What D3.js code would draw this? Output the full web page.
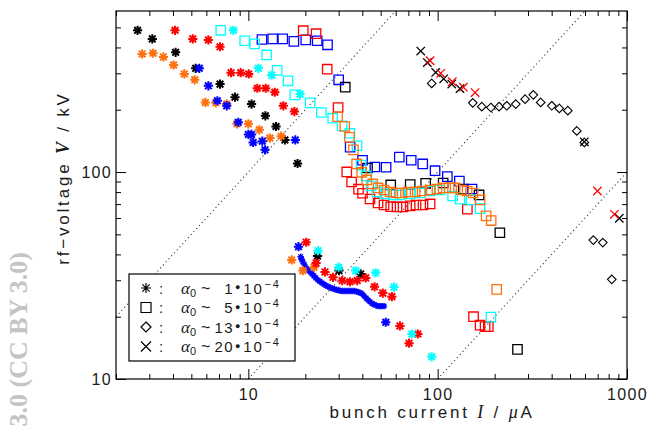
<!DOCTYPE html>
<html>
<head>
<meta charset="utf-8">
<script src="https://cdn.jsdelivr.net/npm/d3@7/dist/d3.min.js"></script>
<style>
  html, body { margin: 0; padding: 0; background: #fff; }
  svg { display: block; }
  text { font-family: "Liberation Sans", Arial, sans-serif; fill: #1a1a1a; }
</style>
</head>
<body>
<svg id="chart" width="648" height="429"></svg>
<script>
// Each point: [bunch current I (µA), rf-voltage V (kV)]

// alpha0 ~ 1e-4 (asterisks)
const starBlack = [[2.60,484],[3.11,440],[4.13,379],[5.27,317],[7.09,266],[8.50,230],[10.4,213],[12.3,187],[14.0,166],[15.6,143],[18.2,110],[23.2,39.3],[30.1,33.4],[39.2,32.2]];
const starRed = [[4.10,484],[5.09,440],[6.15,435],[7.09,403],[8.10,302],[9.11,302],[10.05,298],[11.15,254],[12.35,254],[13.8,243],[15.3,209],[17.5,196],[20.2,45.8],[22.8,36.3],[25.4,32.9],[28.0,31.0],[31.3,29.9],[34.4,29.5],[37.6,29.9],[41.7,30.8],[46.4,27.9],[51.3,26.0],[57.3,25.0],[63.2,18.05],[78.5,16.5],[70.6,14.9]];
const starOrange = [[2.75,372],[3.14,375],[3.56,360],[4.03,329],[4.59,298],[5.21,279],[5.93,217],[6.73,216],[7.69,213],[8.71,171],[10.0,171],[11.43,160],[13.0,146],[14.9,149],[16.95,37.6],[19.4,33.4],[22.2,34.7]];
const starBlue = [[5.51,317],[6.15,261],[6.86,221],[7.69,209],[8.85,174],[10.0,152],[10.4,152],[10.6,139],[11.85,141],[12.25,128],[17.7,143],[18.4,43.6],[53.2,18.8]];
const starBlueScan = [[18.9,39.0],[19.1,37.9],[19.4,36.8],[19.8,35.6],[20.2,34.4],[20.7,33.6],[21.2,32.9],[21.7,32.2],[22.2,31.5],[22.7,30.8],[23.3,30.1],[23.9,29.6],[24.5,29.1],[25.1,28.7],[25.7,28.3],[26.3,28.0],[27.0,27.7],[27.7,27.4],[28.4,27.2],[29.1,27.0],[29.8,26.9],[30.5,26.7],[31.3,26.6],[32.0,26.6],[32.8,26.6],[33.6,26.6],[34.4,26.6],[35.3,26.6],[36.2,26.6],[37.1,26.5],[38.0,26.3],[38.9,26.1],[39.9,25.8],[40.9,25.2],[41.9,24.6],[42.9,24.1],[43.9,23.6],[45.0,23.2],[46.1,22.9],[47.2,22.7],[48.4,22.5],[49.6,22.5],[50.8,22.5],[52.1,22.5]];
const starCyan = [[8.33,484],[11.29,317],[13.3,294],[18.75,238],[23.35,41.7],[30.0,34.7],[36.9,33.4],[47.1,32.6],[58.8,27.8],[73.1,16.5],[93.0,12.8]];

// alpha0 ~ 5e-4 (squares)
const squareCyan = [[7.15,484],[9.57,431],[10.8,416],[12.5,368],[14.2,310],[16.2,276],[17.6,236],[21.2,216],[24.3,194],[27.9,182],[31.3,167],[34.4,154],[37.5,134],[39.4,108],[41.9,95.7],[44.5,85.6],[47.8,80.1],[52.7,78.4],[58.1,77.5],[63.2,77.5],[71.6,78.4],[80.7,79.2],[91.2,81.0],[102.9,81.9],[119.9,76.6],[131.2,74.0],[150.1,73.3],[167.5,66.5],[191,19.9]];
const squareBlue = [[11.8,437],[13.45,440],[15.2,440],[17.4,428],[20.1,435],[23.1,431],[26.2,412],[30.0,279],[34.5,132],[40.1,114],[46.6,105.8],[53.4,105.5],[62.7,118],[72.5,114],[83.4,109.4],[96.9,101.5],[112.5,95],[130.2,90.5],[151.9,82.8]];
const squareBlack = [[32.5,257],[42.6,104.6],[56.5,86.6],[71.6,86.9],[86.4,88.2],[106.9,88.5],[136.7,82.8],[165.5,77.5],[213,50.9],[264,13.9]];
const squareRed = [[19.5,482],[22.8,466],[26.1,314],[29.8,205],[33.1,100.1],[35.1,89.5],[38.2,82.6],[40.1,79],[43.9,74.1],[48.4,70.9],[52.1,69.3],[56.5,68.0],[61.0,67.8],[65.6,67.8],[71.6,68.6],[76.9,69.3],[83.7,69.3],[91.2,70.1],[143.5,66.1],[154.7,20.0],[167.5,18.2],[178,17.9],[185.2,17.9]];
const squareOrange = [[29.6,185],[32.3,166],[34.2,147],[35.9,128],[37.3,109.4],[39.7,99.7],[42.2,91.6],[45.3,87.6],[48.4,83.8],[52.1,81.9],[56.0,80.1],[60.3,79.2],[64.8,79.2],[69.7,80.1],[76.0,80.1],[82.7,81.0],[91.2,81.9],[99.2,82.8],[106.8,83.8],[114.9,83.8],[123.6,83.8],[132.9,81.9],[143,81.0],[153.8,79.2],[167.5,73.3],[180.3,61.4],[191.7,58.3],[205,27.1]];

// alpha0 ~ 13e-4 (diamonds)
const diamondBlack = [[93.0,268],[153.3,216],[171,207],[191,205],[211,207],[231.7,209],[258.6,213],[289.6,225],[320,236],[350,217],[400.5,209],[439,203],[487,198],[543,158],[595,139],[664,46.9],[745,45.6],[831,30.3]];

// alpha0 ~ 20e-4 (crosses)
const crossBlack = [[81.4,384],[88.2,338],[97.6,303],[107.6,282],[118.7,266],[131.2,253],[595,140],[911,59.8]];
const crossRed = [[91.2,345],[103.8,300],[119.5,273],[136.7,257],[157.6,242],[698,81.0],[858,62.5]];

// axes
const xMajorTicks = [10, 100, 1000];
const xMinorTicks = [2,3,4,5,6,7,8,9,20,30,40,50,60,70,80,90,200,300,400,500,600,700,800,900];
const yMajorTicks = [10, 100];
const yMinorTicks = [20,30,40,50,60,70,80,90,200,300,400,500];

// dotted guide lines V = k * I
const guideRatios = [10, 1, 0.1];

// legend
const legendShapes = ["star", "square", "diamond", "cross"];
const legendFactors = ["1", "5", "13", "20"];
const legendExponent = "\u22124";

const SANS = "'Liberation Sans', Arial, sans-serif";
const SERIF = "'Liberation Serif', 'DejaVu Serif', serif";

const svg = d3.select("#chart");
const x = d3.scaleLog().domain([2, 1000]).range([116, 627]);
const y = d3.scaleLog().domain([10, 600]).range([379, 11]);
const [x0, x1] = x.range();
const [y0, y1] = y.range();

// watermark along the left edge
svg.append("text")
  .attr("transform", "translate(27,252) rotate(-90)")
  .attr("text-anchor", "end")
  .style("font-family", SERIF)
  .style("font-weight", "bold")
  .style("font-size", "26px")
  .style("fill", "#c4c4c4")
  .text("3.0 (CC BY 3.0)");

// guide lines
const gGuides = svg.append("g");
guideRatios.forEach(k => {
  const iA = Math.max(2, 10 / k), iB = Math.min(1000, 600 / k);
  gGuides.append("line")
    .attr("x1", x(iA)).attr("y1", y(k * iA))
    .attr("x2", x(iB)).attr("y2", y(k * iB))
    .attr("stroke", "#333").attr("stroke-width", 1.1)
    .attr("stroke-dasharray", "1.1 3");
});

// marker shapes
function shapePath(shape, r) {
  if (shape === "star") {
    const d = r * 0.72;
    return `M${-r},0H${r}M0,${-r}V${r}M${-d},${-d}L${d},${d}M${-d},${d}L${d},${-d}`;
  }
  if (shape === "square") return `M${-r},${-r}H${r}V${r}H${-r}Z`;
  if (shape === "diamond") return `M0,${-r}L${r},0L0,${r}L${-r},0Z`;
  return `M${-r},${-r}L${r},${r}M${-r},${r}L${r},${-r}`;
}

const series = [
  { data: squareBlack, shape: "square", color: "#000", r: 4.7, w: 1.3 },
  { data: squareBlue, shape: "square", color: "#0000ff", r: 4.7, w: 1.3 },
  { data: squareRed, shape: "square", color: "#ff0000", r: 4.7, w: 1.3 },
  { data: squareCyan, shape: "square", color: "#00ffff", r: 4.7, w: 1.3 },
  { data: squareOrange, shape: "square", color: "#ff7010", r: 4.7, w: 1.3 },
  { data: diamondBlack, shape: "diamond", color: "#000", r: 4.3, w: 1.1 },
  { data: starBlueScan, shape: "star", color: "#0000ff", r: 3.2, w: 1.4 },
  { data: starBlack, shape: "star", color: "#000", r: 4.6, w: 2 },
  { data: starOrange, shape: "star", color: "#ff7010", r: 4.6, w: 2 },
  { data: starBlue, shape: "star", color: "#0000ff", r: 4.6, w: 2 },
  { data: starRed, shape: "star", color: "#ff0000", r: 4.6, w: 2 },
  { data: starCyan, shape: "star", color: "#00ffff", r: 4.6, w: 2 },
  { data: crossBlack, shape: "cross", color: "#000", r: 4.2, w: 1.3 },
  { data: crossRed, shape: "cross", color: "#ff0000", r: 4.2, w: 1.3 }
];

const gMarks = svg.append("g");
series.forEach(s => {
  gMarks.append("g").selectAll("path").data(s.data).join("path")
    .attr("transform", d => `translate(${x(d[0])},${y(d[1])})`)
    .attr("d", shapePath(s.shape, s.r))
    .attr("fill", "none")
    .attr("stroke", s.color)
    .attr("stroke-width", s.w);
});

// axes with inward ticks on all four sides
function axis(gen, tx, ty, values, size, labels, pad) {
  const g = svg.append("g").attr("transform", `translate(${tx},${ty})`)
    .call(gen.tickValues(values).tickSize(-size).tickPadding(pad)
      .tickFormat(labels ? d3.format("d") : () => ""));
  g.attr("font-family", SANS).attr("font-size", 16);
  g.select(".domain").remove();
  g.selectAll(".tick line").attr("stroke", "#000").attr("stroke-width", 1);
  g.selectAll(".tick text")
    .attr("font-family", SANS)
    .style("font-family", SANS).style("font-size", "16px").style("letter-spacing", "1.3px")
    .attr("fill", "#1a1a1a");
  return g;
}
axis(d3.axisBottom(x), 0, y0, xMajorTicks, 10, true, 10);
axis(d3.axisBottom(x), 0, y0, xMinorTicks, 5, false, 0);
axis(d3.axisTop(x), 0, y1, xMajorTicks, 10, false, 0);
axis(d3.axisTop(x), 0, y1, xMinorTicks, 5, false, 0);
axis(d3.axisLeft(y), x0, 0, yMajorTicks, 10, true, 4);
axis(d3.axisLeft(y), x0, 0, yMinorTicks, 5, false, 0);
axis(d3.axisRight(y), x1, 0, yMajorTicks, 10, false, 0);
axis(d3.axisRight(y), x1, 0, yMinorTicks, 5, false, 0);

svg.append("rect")
  .attr("x", x0).attr("y", y1).attr("width", x1 - x0).attr("height", y0 - y1)
  .attr("fill", "none").attr("stroke", "#000").attr("stroke-width", 1.2);

// axis titles
const xt = svg.append("text").attr("x", 432).attr("y", 418).attr("text-anchor", "middle")
  .style("font-size", "17px").style("letter-spacing", "2.8px");
xt.append("tspan").text("bunch current ");
xt.append("tspan").style("font-family", SERIF).style("font-style", "italic").style("font-size", "18px").text("I");
xt.append("tspan").text(" / ");
xt.append("tspan").style("font-family", SERIF).style("font-style", "italic").style("font-size", "18px").text("\u03bc");
xt.append("tspan").text("A");

const yt = svg.append("text").attr("transform", "translate(69,178) rotate(-90)").attr("text-anchor", "middle")
  .style("font-size", "17px").style("letter-spacing", "2.8px");
yt.append("tspan").text("rf\u2212voltage ");
yt.append("tspan").style("font-family", SERIF).style("font-style", "italic").style("font-weight", "bold").style("font-size", "18px").text("V");
yt.append("tspan").text(" / kV");

// legend
const lg = svg.append("g");
lg.append("rect").attr("x", 129).attr("y", 274).attr("width", 166).attr("height", 87)
  .attr("fill", "#fff").attr("stroke", "#000").attr("stroke-width", 1.2);
legendShapes.forEach((shape, i) => {
  const cy = 288 + i * 19.5;
  const base = cy + 5.5;
  lg.append("path").attr("transform", `translate(146,${cy})`)
    .attr("d", shapePath(shape, 5)).attr("fill", "none").attr("stroke", "#000").attr("stroke-width", 1.2);
  lg.append("text").attr("x", 159).attr("y", base).style("font-size", "15px").text(":");
  const t = lg.append("text").attr("x", 181).attr("y", base).style("font-size", "15px");
  t.append("tspan").style("font-family", SERIF).style("font-style", "italic").style("font-size", "17px").text("\u03b1");
  t.append("tspan").attr("dy", 3).style("font-size", "11px").text("0");
  lg.append("text").attr("x", 201).attr("y", base).style("font-size", "16px").text("~");
  lg.append("text").attr("x", 234).attr("y", base).attr("text-anchor", "end")
    .style("font-size", "15px").style("letter-spacing", "1.4px").text(legendFactors[i]);
  const e = lg.append("text").attr("x", 235).attr("y", base).style("font-size", "15px").style("letter-spacing", "1.8px");
  e.append("tspan").style("font-size", "9px").attr("dy", -3.5).text("\u25cf");
  e.append("tspan").attr("dy", 3.5).attr("dx", 1).text("10");
  e.append("tspan").attr("dy", -6).attr("dx", 1).style("font-size", "11px").text(legendExponent);
});
</script>
</body>
</html>
